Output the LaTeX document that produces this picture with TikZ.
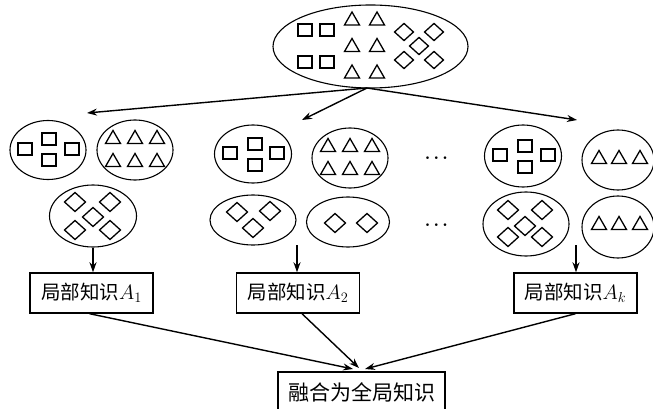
\documentclass[tikz,border=0pt]{standalone}
\usepackage{amsmath}
\usepackage{fontspec}
\newfontfamily\cjk{Noto Sans CJK SC}
\usetikzlibrary{arrows.meta,shapes.geometric}

\tikzset{
    grp/.style={draw, ellipse, line width=1.1pt, inner sep=0pt},
    know/.style={draw, line width=1.4pt, inner sep=0pt, minimum width=123pt, minimum height=40pt,
        font=\fontsize{19.5}{19.5}\selectfont},
    link/.style={line width=1.4pt, -{Stealth[length=10pt, width=7pt]}},
    more/.style={font=\fontsize{19}{19}\selectfont\boldmath},
    sqr/.pic={\draw[line width=1.4pt] (-7,-6) rectangle (7,6);},
    tri/.pic={\draw[line width=1.3pt] (-7.5,6.5) -- (7.5,6.5) -- (0,-6.5) -- cycle;},
    dia/.pic={\draw[line width=1.3pt] (-10.5,0) -- (0,-9.5) -- (10.5,0) -- (0,9.5) -- cycle;}
}

\begin{document}
\begin{tikzpicture}[x=1pt, y=-1pt]
    \useasboundingbox (0,0) rectangle (653,409);

    % whole data set
    \node[grp, minimum width=195pt, minimum height=83pt] (all) at (370.5,46.5) {};
    \foreach \x/\y in {305/30, 327/30, 305/62, 327/62} \pic at (\x,\y) {sqr};
    \foreach \x in {352, 377} \foreach \y in {18.5, 45, 71.5} \pic at (\x,\y) {tri};
    \foreach \x/\y in {404/32, 434/32, 419/46, 404/60, 434/60} \pic[scale=0.9] at (\x,\y) {dia};

    % site 1
    \node[grp, minimum width=76pt, minimum height=59pt] (s1) at (48,150) {};
    \node[grp, minimum width=76pt, minimum height=60pt] (t1) at (135,150) {};
    \node[grp, minimum width=87pt, minimum height=62pt] (d1) at (93,216) {};
    \foreach \x/\y in {25/149, 49/139, 49/160, 72/149} \pic at (\x,\y) {sqr};
    \foreach \x in {113, 135, 157} \foreach \y in {137, 160} \pic at (\x,\y) {tri};
    \foreach \x/\y in {75/202, 110/202, 93/217, 75/230, 110/230} \pic at (\x,\y) {dia};

    % site 2
    \node[grp, minimum width=77pt, minimum height=58pt] (s2) at (253,154) {};
    \node[grp, minimum width=76pt, minimum height=60pt] (t2) at (350,158) {};
    \node[grp, minimum width=86pt, minimum height=50pt] (d2) at (253,220) {};
    \node[grp, minimum width=83pt, minimum height=50pt] (e2) at (348,222) {};
    \foreach \x/\y in {230/153, 255/144, 255/165, 277/153} \pic at (\x,\y) {sqr};
    \foreach \x in {328, 350, 372} \foreach \y in {145, 168} \pic at (\x,\y) {tri};
    \foreach \x/\y in {237/212, 270/211, 253/228, 335/223, 367/223} \pic at (\x,\y) {dia};

    % site k
    \node[grp, minimum width=77pt, minimum height=62pt] (s3) at (523,156) {};
    \node[grp, minimum width=72pt, minimum height=60pt] (t3) at (618,160) {};
    \node[grp, minimum width=86pt, minimum height=64pt] (d3) at (526,224) {};
    \node[grp, minimum width=72pt, minimum height=62pt] (u3) at (618,227) {};
    \foreach \x/\y in {500/155, 525/146, 525/167, 548/155} \pic at (\x,\y) {sqr};
    \foreach \x in {599, 619, 640} \foreach \y in {157, 223} \pic at (\x,\y) {tri};
    \foreach \x/\y in {508/210, 542/210, 525/226, 508/237, 542/237} \pic at (\x,\y) {dia};

    \node[more] (dots1) at (438,158) {$\cdots$};
    \node[more] (dots2) at (438,225) {$\cdots$};

    % split into sites
    \coordinate (fork) at (367,88);
    \coordinate (to1) at (87,113);
    \coordinate (to2) at (302,120);
    \coordinate (tok) at (577,120);
    \draw[link] (fork) -- (to1);
    \draw[link] (fork) -- (to2);
    \draw[link] (fork) -- (tok);

    % local knowledge
    \node[know] (a1) at (91.5,293) {{\cjk 局部知识}$A_1$};
    \node[know] (a2) at (298,293) {{\cjk 局部知识}$A_2$};
    \node[know] (ak) at (575.5,293) {{\cjk 局部知识}$A_k$};
    \coordinate (from2) at (297,245);
    \coordinate (fromk) at (576,245);
    \draw[link] (d1.south) -- (d1.south |- a1.north);
    \draw[link] (from2) -- (from2 |- a2.north);
    \draw[link] (fromk) -- (fromk |- ak.north);

    % global knowledge
    \node[know, minimum width=167pt, font=\fontsize{21}{21}\selectfont] (glob) at (361.5,392) {\cjk 融合为全局知识};
    \coordinate (in1) at (353,369);
    \coordinate (in2) at (359,368);
    \coordinate (ink) at (365,369);
    \draw[link] ([xshift=-2pt]a1.south) -- (in1);
    \draw[link] ([xshift=4pt]a2.south) -- (in2);
    \draw[link] (ak.south) -- (ink);
\end{tikzpicture}
\end{document}
